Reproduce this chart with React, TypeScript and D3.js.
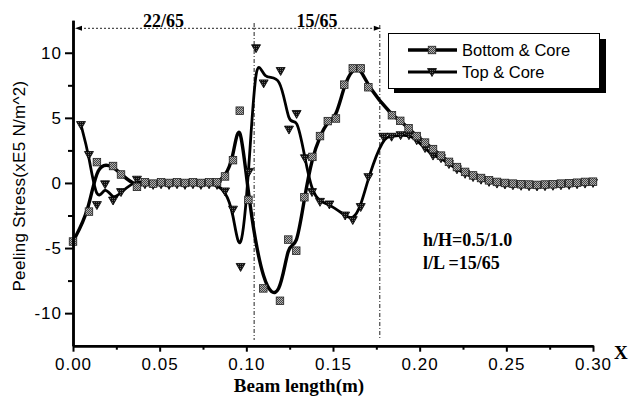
import React, { useEffect, useRef } from "react";
import * as d3 from "d3";

const BOTTOM_X = [0, 0.0092, 0.0138, 0.0231, 0.0277, 0.0369, 0.0415, 0.0462, 0.0508, 0.0554, 0.06, 0.0646, 0.0692, 0.0738, 0.0785, 0.0831, 0.0877, 0.0923, 0.0962, 0.1012, 0.1098, 0.1194, 0.1242, 0.1288, 0.1335, 0.1381, 0.1425, 0.147, 0.1517, 0.1565, 0.1614, 0.166, 0.1704, 0.184, 0.1888, 0.1936, 0.1983, 0.2031, 0.2077, 0.2123, 0.2169, 0.2215, 0.2262, 0.2308, 0.2354, 0.24, 0.2446, 0.2492, 0.2538, 0.2585, 0.2631, 0.2677, 0.2723, 0.2769, 0.2815, 0.2862, 0.2908, 0.2954, 0.3];
const BOTTOM_Y = [-4.5, -2.2, 1.6, 1.3, 0.65, -0.3, 0.05, -0.05, 0.05, 0.0, 0.05, 0.0, 0.05, 0.0, 0.05, 0.05, 0.5, 1.75, 5.55, -1.3, -8.1, -9.05, -4.35, -5.2, -1.1, 2.0, 3.6, 4.75, 4.95, 7.55, 8.8, 8.8, 7.35, 5.2, 4.77, 4.2, 3.6, 3.1, 2.6, 2.1, 1.62, 1.22, 0.85, 0.58, 0.38, 0.2, 0.08, 0.0, -0.05, -0.1, -0.12, -0.15, -0.12, -0.1, -0.05, -0.02, 0.02, 0.08, 0.1];

const TOP_X = [0.0046, 0.0092, 0.0138, 0.0185, 0.0231, 0.0277, 0.0369, 0.0415, 0.0462, 0.0508, 0.0554, 0.06, 0.0646, 0.0692, 0.0738, 0.0785, 0.0831, 0.0877, 0.0923, 0.0967, 0.1015, 0.1056, 0.11, 0.1198, 0.1246, 0.129, 0.1338, 0.1379, 0.1425, 0.1479, 0.157, 0.1614, 0.166, 0.1704, 0.179, 0.1838, 0.189, 0.1938, 0.1983, 0.2031, 0.2077, 0.2123, 0.2169, 0.2215, 0.2262, 0.2308, 0.2354, 0.24, 0.2446, 0.2492, 0.2538, 0.2585, 0.2631, 0.2677, 0.2723, 0.2769, 0.2815, 0.2862, 0.2908, 0.2954, 0.3];
const TOP_Y = [4.45, 2.15, -1.7, -0.1, -1.35, -0.7, 0.25, -0.1, -0.15, -0.1, -0.15, -0.1, -0.15, -0.1, -0.15, -0.1, -0.15, -0.65, -2.05, -6.45, 0.85, 10.35, 7.65, 8.6, 4.1, 5.3, 1.9, -0.7, -1.45, -1.65, -2.5, -2.85, -1.85, 0.45, 3.55, 3.55, 3.67, 3.67, 3.28, 2.68, 2.1, 1.9, 1.45, 1.05, 0.7, 0.45, 0.25, 0.08, -0.05, -0.12, -0.18, -0.22, -0.25, -0.27, -0.25, -0.22, -0.18, -0.15, -0.1, -0.05, 0.0];

const SERIES_NAMES = ["Bottom & Core", "Top & Core"];
const X_MAJOR = [0, 0.05, 0.1, 0.15, 0.2, 0.25, 0.3];
const X_MINOR = [0.025, 0.075, 0.125, 0.175, 0.225, 0.275];
const Y_MAJOR = [-10, -5, 0, 5, 10];
const Y_MINOR = [-7.5, -2.5, 2.5, 7.5];
const BOUNDARIES = [0, 0.1045, 0.177];
const SEGMENT_LABELS = ["22/65", "15/65"];
const NOTES = ["h/H=0.5/1.0", "l/L =15/65"];

const W = 638;
const H = 398;

export default function App() {
  const xAxisRef = useRef<SVGGElement>(null);
  const yAxisRef = useRef<SVGGElement>(null);

  const x = d3.scaleLinear().domain([0, 0.3]).range([73, 593]);
  const y = d3.scaleLinear().domain([-12.5, 12.5]).range([345.7, 20.2]);

  const bottom = BOTTOM_X.map((v, i) => [v, BOTTOM_Y[i]] as [number, number]);
  const top = TOP_X.map((v, i) => [v, TOP_Y[i]] as [number, number]);
  const line = d3
    .line<[number, number]>()
    .x((d) => x(d[0]))
    .y((d) => y(d[1]))
    .curve(d3.curveBasis);

  useEffect(() => {
    const fontStyle = (sel: any) =>
      sel
        .selectAll("text")
        .attr("font-family", "Liberation Sans, Arial, sans-serif")
        .attr("font-size", 17)
        .attr("letter-spacing", 1)
        .attr("fill", "#000");

    const gx = d3.select(xAxisRef.current);
    gx.selectAll("*").remove();
    gx.append("g").call(
      d3.axisBottom(x).tickValues(X_MINOR).tickSize(4).tickFormat(() => "").tickSizeOuter(0)
    );
    const gxMaj = gx.append("g").call(
      d3.axisBottom(x).tickValues(X_MAJOR).tickSize(6).tickPadding(6.5).tickFormat((d: any) => d3.format(".2f")(d)).tickSizeOuter(0)
    );
    fontStyle(gxMaj);
    gx.selectAll("path.domain").attr("stroke-width", 2.5);
    gx.selectAll(".tick line").attr("stroke-width", 2);

    const gy = d3.select(yAxisRef.current);
    gy.selectAll("*").remove();
    gy.append("g").call(
      d3.axisLeft(y).tickValues(Y_MINOR).tickSize(5).tickFormat(() => "").tickSizeOuter(0)
    );
    const gyMaj = gy.append("g").call(
      d3.axisLeft(y).tickValues(Y_MAJOR).tickSize(8).tickPadding(3).tickFormat((d: any) => String(d)).tickSizeOuter(0)
    );
    fontStyle(gyMaj);
    gy.selectAll("path.domain").attr("stroke-width", 2.5);
    gy.selectAll(".tick line").attr("stroke-width", 2);
  }, []);

  const sq = 7.5;
  const tri = (cx: number, cy: number, s: number) =>
    `M${cx - s / 2},${cy - s / 2.6}L${cx + s / 2},${cy - s / 2.6}L${cx},${cy + s / 2}Z`;

  const b1 = x(BOUNDARIES[1]);
  const b2 = x(BOUNDARIES[2]);
  const b0 = x(BOUNDARIES[0]) + 2;
  const arrowY = 28.3;

  return (
    <svg
      width={W}
      height={H}
      style={{ position: "absolute", left: 0, top: 0, background: "#fff" }}
    >
      <defs>
        <pattern id="checker" width="2" height="2" patternUnits="userSpaceOnUse">
          <rect width="2" height="2" fill="#b0b0b0" />
          <rect width="1" height="1" fill="#444" />
          <rect x="1" y="1" width="1" height="1" fill="#444" />
        </pattern>
        <pattern id="checkerDark" width="2" height="2" patternUnits="userSpaceOnUse">
          <rect width="2" height="2" fill="#111" />
          <rect width="1" height="1" fill="#666" />
        </pattern>
      </defs>
      <rect width={W} height={H} fill="#fff" />

      {/* boundary lines */}
      {[b1, b2].map((bx, i) => (
        <line
          key={i}
          x1={bx}
          x2={bx}
          y1={i === 0 ? 23 : 25}
          y2={340}
          stroke="#222"
          strokeWidth={1}
          strokeDasharray="4,2,1,2"
        />
      ))}
      {/* dimension arrows */}
      <line x1={b0 + 5} x2={b1} y1={arrowY} y2={arrowY} stroke="#222" strokeWidth={1} strokeDasharray="2,2" />
      <line x1={b1} x2={b2 - 5} y1={arrowY} y2={arrowY} stroke="#222" strokeWidth={1} strokeDasharray="2,2" />
      <path d={`M${b0},${arrowY}L${b0 + 7},${arrowY - 2.5}L${b0 + 7},${arrowY + 2.5}Z`} fill="#000" />
      <path d={`M${b2 + 1},${arrowY}L${b2 - 6},${arrowY - 2.5}L${b2 - 6},${arrowY + 2.5}Z`} fill="#000" />
      {SEGMENT_LABELS.map((t, i) => (
        <text
          key={t}
          x={(x(BOUNDARIES[i]) + x(BOUNDARIES[i + 1])) / 2}
          y={27}
          textAnchor="middle"
          fontFamily="Liberation Serif, Times New Roman, serif"
          fontWeight="bold"
          fontSize={18}
        >
          {t}
        </text>
      ))}

      {/* curves */}
      <path d={line(bottom) || ""} fill="none" stroke="#000" strokeWidth={3.4} />
      <path d={line(top) || ""} fill="none" stroke="#000" strokeWidth={2.8} />

      {/* markers */}
      {top.map((d, i) => (
        <path key={"t" + i} d={tri(x(d[0]), y(d[1]), 9)} fill="url(#checkerDark)" stroke="#000" strokeWidth={0.8} />
      ))}
      {bottom.map((d, i) => (
        <rect
          key={"b" + i}
          x={x(d[0]) - sq / 2}
          y={y(d[1]) - sq / 2}
          width={sq}
          height={sq}
          fill="url(#checker)"
          stroke="#222"
          strokeWidth={0.8}
        />
      ))}

      {/* axes */}
      <g ref={xAxisRef} transform={`translate(0,${y(-12.5)})`} />
      <g ref={yAxisRef} transform={`translate(${x(0)},0)`} />

      {/* axis titles */}
      <text
        x={299}
        y={392}
        textAnchor="middle"
        fontFamily="Liberation Serif, Times New Roman, serif"
        fontWeight="bold"
        fontSize={19}
      >
        Beam length(m)
      </text>
      <text
        x={614}
        y={359}
        fontFamily="Liberation Serif, Times New Roman, serif"
        fontWeight="bold"
        fontSize={19}
      >
        X
      </text>
      <text
        transform="translate(25,186) rotate(-90)"
        textAnchor="middle"
        fontFamily="Liberation Sans, Arial, sans-serif"
        fontSize={17}
        letterSpacing={0.3}
      >
        Peeling Stress(xE5 N/m^2)
      </text>

      {/* notes */}
      {NOTES.map((t, i) => (
        <text
          key={t}
          x={423}
          y={246 + i * 23}
          fontFamily="Liberation Serif, Times New Roman, serif"
          fontWeight="bold"
          fontSize={18}
        >
          {t}
        </text>
      ))}

      {/* legend */}
      <rect x={394} y={39} width={212} height={54} fill="#000" />
      <rect x={388.5} y={33.5} width={211} height={55} fill="#fff" stroke="#000" strokeWidth={1} />
      <line x1={408} x2={457} y1={50} y2={50} stroke="#000" strokeWidth={3.4} />
      <rect x={432 - sq / 2} y={50 - sq / 2} width={sq} height={sq} fill="url(#checker)" stroke="#222" strokeWidth={0.8} />
      <line x1={408} x2={457} y1={72} y2={72} stroke="#000" strokeWidth={2.8} />
      <path d={tri(432, 72, 9)} fill="url(#checkerDark)" stroke="#000" strokeWidth={0.8} />
      {SERIES_NAMES.map((t, i) => (
        <text
          key={t}
          x={462}
          y={56 + i * 22}
          fontFamily="Liberation Sans, Arial, sans-serif"
          fontSize={16.5}
        >
          {t}
        </text>
      ))}
    </svg>
  );
}
